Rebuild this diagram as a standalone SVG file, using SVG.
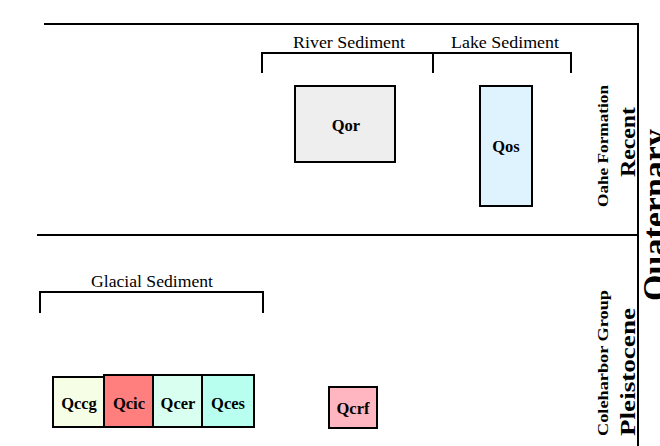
<svg xmlns="http://www.w3.org/2000/svg" width="660" height="446" viewBox="0 0 660 446">
<style>
.ln{stroke:#000;stroke-width:2;fill:none}
.box{stroke:#000;stroke-width:2}
.bl{font-family:"Liberation Serif",serif;font-weight:bold;font-size:16.5px;text-anchor:middle;fill:#000}
.lab{font-family:"Liberation Serif",serif;font-size:16.5px;text-anchor:middle;fill:#000}
.rot{font-family:"Liberation Serif",serif;font-weight:bold;text-anchor:middle;fill:#000}
</style>
<rect width="660" height="446" fill="#fff"/>
<g id="frame">
<line class="ln" x1="44" y1="24" x2="638" y2="24"/>
<line class="ln" x1="37" y1="235" x2="638" y2="235"/>
<line class="ln" x1="638" y1="23" x2="638" y2="446"/>
</g>
<g id="connectors">
<path class="ln" d="M262,73 V53 H571 V73 M433,53 V73"/>
<path class="ln" d="M40,313 V292 H263 V313"/>
</g>
<g id="labels">
<text class="lab" x="349" y="48" textLength="112" lengthAdjust="spacingAndGlyphs">River Sediment</text>
<text class="lab" x="505" y="48" textLength="108" lengthAdjust="spacingAndGlyphs">Lake Sediment</text>
<text class="lab" x="152" y="287" textLength="122" lengthAdjust="spacingAndGlyphs">Glacial Sediment</text>
<text class="rot" font-size="15.5" transform="translate(608,146) rotate(-90)" textLength="122" lengthAdjust="spacingAndGlyphs">Oahe Formation</text>
<text class="rot" font-size="21" transform="translate(635,142) rotate(-90)" textLength="70" lengthAdjust="spacingAndGlyphs">Recent</text>
<text class="rot" font-size="15.5" transform="translate(608,363) rotate(-90)" textLength="146" lengthAdjust="spacingAndGlyphs">Coleharbor Group</text>
<text class="rot" font-size="21" transform="translate(635,372) rotate(-90)" textLength="128" lengthAdjust="spacingAndGlyphs">Pleistocene</text>
<text class="rot" font-size="34" transform="translate(666,215) rotate(-90)">Quaternary</text>
</g>
<g id="Qor"><rect class="box" x="295" y="86" width="100" height="76" fill="#eeeeee"/><text class="bl" x="346" y="131">Qor</text></g>
<g id="Qos"><rect class="box" x="480" y="86" width="52" height="120" fill="#dff3fe"/><text class="bl" x="506" y="152">Qos</text></g>
<g id="Qccg"><rect class="box" x="53" y="377" width="51" height="50" fill="#f6ffe6"/><text class="bl" x="79" y="409">Qccg</text></g>
<g id="Qcic"><rect class="box" x="104" y="375" width="49" height="52" fill="#ff7f7f"/><text class="bl" x="129" y="409">Qcic</text></g>
<g id="Qcer"><rect class="box" x="153" y="375" width="49" height="52" fill="#d9fff0"/><text class="bl" x="178" y="409">Qcer</text></g>
<g id="Qces"><rect class="box" x="202" y="375" width="52" height="52" fill="#b8fff0"/><text class="bl" x="228" y="409">Qces</text></g>
<g id="Qcrf"><rect class="box" x="329" y="387" width="48" height="41" fill="#ffb6c1"/><text class="bl" x="353" y="414">Qcrf</text></g>
</svg>
